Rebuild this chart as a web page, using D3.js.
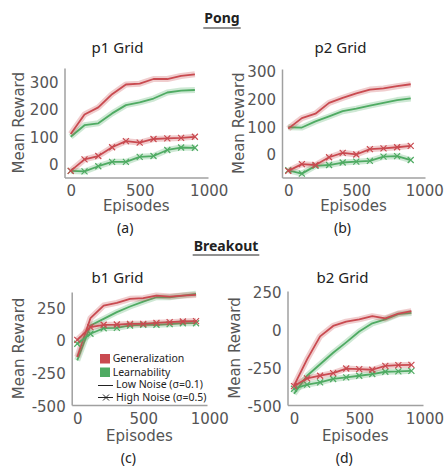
<!DOCTYPE html>
<html>
<head>
<meta charset="utf-8">
<script src="https://cdn.jsdelivr.net/npm/d3@7"></script>
<style>
  body { margin: 0; background: #fff; }
  svg { display: block; }
</style>
</head>
<body>
<svg width="445" height="470"></svg>
<script>
// episodes shared by all panels
const episodes = [0, 100, 200, 300, 400, 500, 600, 700, 800, 900];

// Pong p1
const p1GenLow = [113, 184, 210, 258, 293, 296, 313, 313, 324, 330];
const p1LearnLow = [103, 145, 152, 188, 218, 228, 242, 264, 271, 273];
const p1GenHigh = [-21, 21, 33, 65, 87, 82, 95, 97, 99, 103];
const p1LearnHigh = [-21, -23, -4, 12, 12, 30, 33, 55, 64, 63];
// Pong p2
const p2GenLow = [95, 133, 149, 188, 206, 222, 236, 240, 248, 255];
const p2LearnLow = [100, 99, 121, 139, 158, 167, 178, 188, 198, 204];
const p2GenHigh = [-57, -33, -36, -8, 8, 2, 21, 24, 28, 33];
const p2LearnHigh = [-55, -67, -39, -36, -27, -24, -21, -6, -4, -18];
// Breakout b1
const b1GenLow = [-121, 174, 270, 290, 321, 326, 346, 338, 346, 351];
const b1LearnLow = [-146, 119, 169, 220, 263, 300, 333, 333, 346, 359];
const b1GenHigh = [10, 106, 124, 126, 131, 131, 139, 144, 149, 152];
const b1LearnHigh = [-20, 56, 98, 101, 119, 124, 124, 129, 136, 136];
// Breakout b2
const b2GenLow = [-359, -188, -38, 30, 58, 73, 94, 79, 111, 126];
const b2LearnLow = [-412, -295, -220, -145, -77, -6, 47, 73, 107, 115];
const b2GenHigh = [-363, -312, -295, -278, -248, -252, -256, -231, -226, -224];
const b2LearnHigh = [-380, -353, -338, -316, -306, -295, -284, -269, -267, -263];

const xTicks = [0, 500, 1000];
const pongTicks = [0, 100, 200, 300];
const breakoutTicks = [-500, -250, 0, 250];
const legendLabels = ['Generalization', 'Learnability', 'Low Noise (σ=0.1)', 'High Noise (σ=0.5)'];

const red = '#c94a50';
const green = '#4fab63';
const grey = '#555';

const svg = d3.select('svg');

const panels = [
  { title: 'p1 Grid', tag: '(a)', xd: [-45, 995], xr: [64.5, 208], yd: [-45, 353], yr: [177.5, 68], yTicks: pongTicks,
    gl: p1GenLow, ll: p1LearnLow, gh: p1GenHigh, lh: p1LearnHigh, cx: 117.5, ty: 53, tagY: 233, ylx: 19, xly: 211 },
  { title: 'p2 Grid', tag: '(b)', xd: [-46, 1005], xr: [282, 425], yd: [-81, 310], yr: [177.5, 69], yTicks: pongTicks,
    gl: p2GenLow, ll: p2LearnLow, gh: p2GenHigh, lh: p2LearnHigh, cx: 340.5, ty: 53, tagY: 233, ylx: 239, xly: 211 },
  { title: 'b1 Grid', tag: '(c)', xd: [-42, 983], xr: [71.7, 207], yd: [-485, 373], yr: [405, 292], yTicks: breakoutTicks,
    gl: b1GenLow, ll: b1LearnLow, gh: b1GenHigh, lh: b1LearnHigh, cx: 117.5, ty: 283, tagY: 463, ylx: 19, xly: 441, legend: true },
  { title: 'b2 Grid', tag: '(d)', xd: [-50, 989], xr: [287.5, 423], yd: [-486, 258], yr: [405, 291], yTicks: breakoutTicks,
    gl: b2GenLow, ll: b2LearnLow, gh: b2GenHigh, lh: b2LearnHigh, cx: 342.5, ty: 283, tagY: 463, ylx: 235, xly: 441 }
];

// section headings
let headings = [{ text: 'Pong', x: 222, y: 23, u: 28 }, { text: 'Breakout', x: 226, y: 251, u: 255 }];
headings.forEach(h => {
  let t = svg.append('text')
    .attr('x', h.x).attr('y', h.y)
    .attr('text-anchor', 'middle')
    .attr('font-family', 'Noto Sans').attr('font-weight', 'bold').attr('font-size', 14)
    .attr('fill', '#222')
    .text(h.text);
  let w = t.node().getComputedTextLength();
  svg.append('line')
    .attr('x1', h.x - w / 2 - 1).attr('x2', h.x + w / 2 + 1)
    .attr('y1', h.u).attr('y2', h.u)
    .attr('stroke', '#222').attr('stroke-width', 1.2);
});

let drawPanel = (p) => {
  let x = d3.scaleLinear().domain(p.xd).range(p.xr);
  let y = d3.scaleLinear().domain(p.yd).range(p.yr);
  let g = svg.append('g');

  let fmt = d => String(d);
  let xAxis = d3.axisBottom(x).tickValues(xTicks).tickFormat(fmt).tickSize(0).tickPadding(8).tickSizeOuter(0);
  let yAxis = d3.axisLeft(y).tickValues(p.yTicks).tickFormat(fmt).tickSize(0).tickPadding(6).tickSizeOuter(0);

  g.append('g')
    .attr('transform', `translate(0, ${p.yr[0]})`)
    .call(xAxis);
  g.append('g')
    .attr('transform', `translate(${p.xr[0]}, 0)`)
    .call(yAxis);
  g.selectAll('.domain').attr('stroke', '#a0a0a0').attr('stroke-width', 1.5);
  g.selectAll('.tick text')
    .attr('font-family', 'DejaVu Sans').attr('font-size', 15).attr('fill', grey);

  // lines
  let series = [
    { v: p.ll, c: green, m: false },
    { v: p.gl, c: red, m: false },
    { v: p.lh, c: green, m: true },
    { v: p.gh, c: red, m: true }
  ];
  let line = d3.line().x((d, i) => x(episodes[i])).y(d => y(d));
  series.forEach(s => {
    g.append('path').datum(s.v)
      .attr('d', line).attr('fill', 'none')
      .attr('stroke', s.c).attr('stroke-opacity', 0.28).attr('stroke-width', 6)
      .attr('stroke-linejoin', 'round');
    g.append('path').datum(s.v)
      .attr('d', line).attr('fill', 'none')
      .attr('stroke', s.c).attr('stroke-width', 1.8)
      .attr('stroke-linejoin', 'round');
    if (s.m) {
      g.selectAll(null).data(s.v).enter().append('path')
        .attr('transform', (d, i) => `translate(${x(episodes[i])}, ${y(d)})`)
        .attr('d', 'M-3,-3L3,3M-3,3L3,-3')
        .attr('stroke', s.c).attr('stroke-width', 1.2);
    }
  });

  // titles
  g.append('text')
    .attr('x', p.cx).attr('y', p.ty)
    .attr('text-anchor', 'middle')
    .attr('font-family', 'Noto Sans').attr('font-size', 15).attr('fill', '#222')
    .text(p.title);
  g.append('text')
    .attr('x', (p.xr[0] + p.xr[1]) / 2).attr('y', p.xly)
    .attr('text-anchor', 'middle')
    .attr('font-family', 'DejaVu Sans').attr('font-size', 15).attr('fill', grey)
    .text('Episodes');
  g.append('text')
    .attr('transform', `translate(${p.ylx}, ${(p.yr[0] + p.yr[1]) / 2}) rotate(-90)`)
    .attr('text-anchor', 'middle').attr('dy', '0.35em')
    .attr('font-family', 'DejaVu Sans').attr('font-size', 15).attr('fill', grey)
    .text('Mean Reward');
  g.append('text')
    .attr('x', (p.xr[0] + p.xr[1]) / 2 - 11).attr('y', p.tagY)
    .attr('text-anchor', 'middle')
    .attr('font-family', 'Noto Sans').attr('font-size', 14).attr('fill', '#222')
    .text(p.tag);

  if (p.legend) {
    let lg = g.append('g').attr('transform', 'translate(98, 354)');
    let ls = 10.5;
    lg.append('rect').attr('x', 2).attr('y', 0).attr('width', 10).attr('height', 9.5).attr('fill', red);
    lg.append('rect').attr('x', 2).attr('y', 13.5).attr('width', 10).attr('height', 9.5).attr('fill', green);
    lg.append('line').attr('x1', 0).attr('x2', 15).attr('y1', 31.5).attr('y2', 31.5).attr('stroke', '#222').attr('stroke-width', 1);
    lg.append('line').attr('x1', 0).attr('x2', 15).attr('y1', 43.5).attr('y2', 43.5).attr('stroke', '#222').attr('stroke-width', 1);
    lg.append('path').attr('d', 'M5,40.5L11,46.5M5,46.5L11,40.5').attr('stroke', '#222').attr('stroke-width', 1);
    let ys = [8.3, 21.7, 34.3, 46.7];
    let xs = [14.7, 14.7, 18, 18];
    legendLabels.forEach((t, i) => {
      lg.append('text')
        .attr('x', xs[i]).attr('y', ys[i])
        .attr('font-family', 'Noto Sans').attr('font-size', ls).attr('fill', '#222')
        .text(t);
    });
  }
};

panels.forEach(drawPanel);
</script>
</body>
</html>
